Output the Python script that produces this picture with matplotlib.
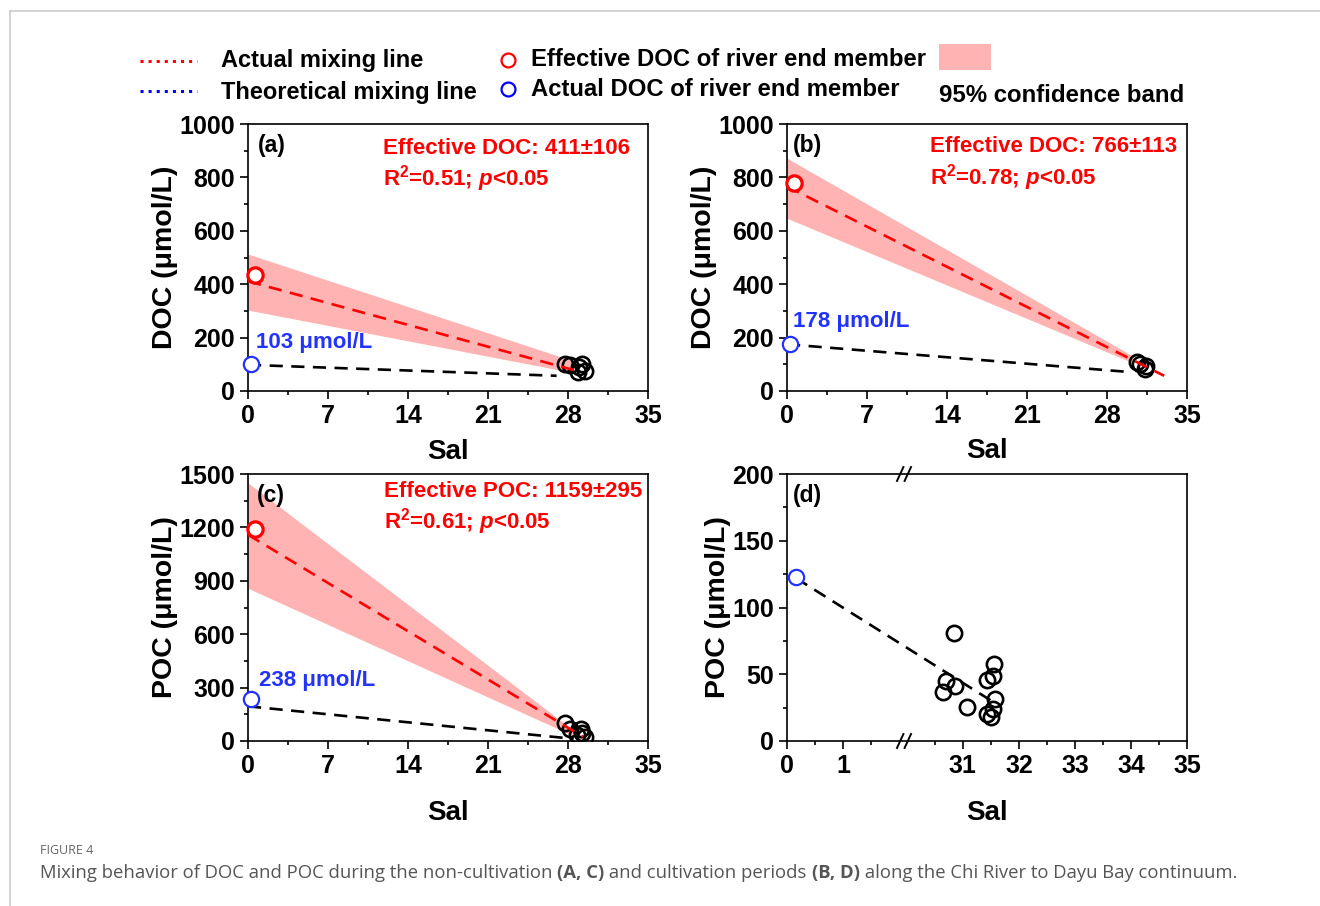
import numpy as np
import matplotlib
matplotlib.use("Agg")
import matplotlib.pyplot as plt
from matplotlib.lines import Line2D
from matplotlib.patches import Rectangle

plt.rcParams['font.family'] = ['Liberation Sans', 'DejaVu Sans']
plt.rcParams['font.weight'] = 'bold'
plt.rcParams['axes.labelweight'] = 'bold'
plt.rcParams['mathtext.fontset'] = 'custom'
plt.rcParams['mathtext.rm'] = 'Liberation Sans:bold'
plt.rcParams['mathtext.bf'] = 'Liberation Sans:bold'
plt.rcParams['mathtext.it'] = 'Liberation Sans:italic:bold'

RED = '#ff0000'
BLUE = '#2233ff'
PINK = '#ffb3b3'

# ---- data ----
# (a) DOC, non-cultivation
a_sal = [27.7, 28.2, 29.0, 29.2, 28.9, 29.5]
a_doc = [100, 97, 91, 100, 72, 75]
a_eff_x, a_eff_y = [0.6], [435]
a_act_x, a_act_y = [0.25], [101]
a_fit_x, a_fit_y = [0, 28.8], [411, 75]
a_theo_x, a_theo_y = [0, 27.0], [98, 57]
a_band_x, a_band_lo, a_band_hi = [0, 28.3], [303, 70], [513, 115]

# (b) DOC, cultivation
b_sal = [30.6, 30.9, 31.4, 31.3]
b_doc = [108, 100, 95, 82]
b_eff_x, b_eff_y = [0.6], [780]
b_act_x, b_act_y = [0.25], [176]
b_fit_x, b_fit_y = [0, 33.0], [766, 57]
b_theo_x, b_theo_y = [0, 29.7], [175, 72]
b_band_x, b_band_lo, b_band_hi = [0, 30.3], [647, 105], [872, 130]

# (c) POC, non-cultivation
c_sal = [27.7, 28.2, 29.1, 28.8, 29.5, 29.2]
c_poc = [100, 66, 70, 35, 20, 45]
c_eff_x, c_eff_y = [0.6], [1189]
c_act_x, c_act_y = [0.3], [236]
c_fit_x, c_fit_y = [0, 29.3], [1159, 24]
c_theo_x, c_theo_y = [0, 28.5], [195, 12]
c_band_x, c_band_lo, c_band_hi = [0, 29.3], [858, 5], [1450, 20]

# (d) POC, cultivation (broken salinity axis)
d_sal = [30.84, 30.70, 30.65, 30.86, 31.08, 31.56, 31.53, 31.43, 31.57, 31.53, 31.43, 31.50]
d_poc = [80.7, 45.2, 36.5, 41.4, 25.2, 57.7, 48.7, 45.7, 31.2, 23.7, 20.2, 18.2]
d_act_x, d_act_y = [0.16], [123]
d_theo_x, d_theo_y = [0.16, 31.55], [122, 29]

W, H = 1320, 906
fig = plt.figure(figsize=(W / 100, H / 100), dpi=100)


def px_ax(left, top, right, bottom):
    return fig.add_axes([left / W, 1 - bottom / H, (right - left) / W, (bottom - top) / H])


def style(ax, ymax, ystep, ylab, labelpad_x):
    ax.set_ylim(0, ymax)
    ax.set_yticks(np.arange(0, ymax + 1, ystep))
    ax.set_yticks(np.arange(ystep / 2, ymax, ystep), minor=True)
    ax.set_ylabel(ylab, fontsize=20.5, labelpad=1)
    ax.set_xlabel('Sal', fontsize=20, labelpad=labelpad_x)
    ax.tick_params(which='both', direction='out', width=1.2, labelsize=18,
                   top=False, right=False, pad=4)
    ax.tick_params(which='major', length=5.5)
    ax.tick_params(which='minor', length=3)
    for s in ax.spines.values():
        s.set_linewidth(1.2)


def sal_axis(ax):
    ax.set_xlim(0, 35)
    ax.set_xticks(np.arange(0, 36, 7))
    ax.set_xticks(np.arange(3.5, 35, 7), minor=True)


def mixing(ax, sal, val, eff_x, eff_y, act_x, act_y, fit_x, fit_y,
           theo_x, theo_y, band_x, band_lo, band_hi):
    ax.fill_between(band_x, band_lo, band_hi, color=PINK, lw=0, zorder=1)
    ax.plot(theo_x, theo_y, color='black', lw=1.9, ls=(0, (5, 3.2)), zorder=2)
    ax.plot(sal, val, 'o', mfc='none', mec='black', ms=11, mew=1.9, zorder=3)
    ax.plot(fit_x, fit_y, color=RED, lw=1.9, ls=(0, (5, 3.2)), zorder=4)
    ax.plot(eff_x, eff_y, 'o', mfc='white', mec=RED, ms=11, mew=2.3, zorder=5, clip_on=False)
    ax.plot(act_x, act_y, 'o', mfc='white', mec=BLUE, ms=11, mew=1.6, zorder=5, clip_on=False)


def stats(ax, x, y, head, r2):
    ax.text(x, y, head, transform=ax.transAxes, color=RED, fontsize=16, va='center')
    ax.text(x, y - 0.115, r'R$^{2}$=%s; $p$<0.05' % r2, transform=ax.transAxes,
            color=RED, fontsize=16, va='center')


# (a)
ax_a = px_ax(248, 124, 648, 391)
mixing(ax_a, a_sal, a_doc, a_eff_x, a_eff_y, a_act_x, a_act_y, a_fit_x, a_fit_y,
       a_theo_x, a_theo_y, a_band_x, a_band_lo, a_band_hi)
sal_axis(ax_a)
style(ax_a, 1000, 200, 'DOC (μmol/L)', 8)
ax_a.text(0.025, 0.921, '(a)', transform=ax_a.transAxes, fontsize=16.5, va='center')
stats(ax_a, 0.3375, 0.91, 'Effective DOC: 411±106', '0.51')
ax_a.text(0.02, 0.1835, '103 μmol/L', transform=ax_a.transAxes, color=BLUE, fontsize=16, va='center')

# (b)
ax_b = px_ax(787, 124, 1187, 391)
mixing(ax_b, b_sal, b_doc, b_eff_x, b_eff_y, b_act_x, b_act_y, b_fit_x, b_fit_y,
       b_theo_x, b_theo_y, b_band_x, b_band_lo, b_band_hi)
sal_axis(ax_b)
style(ax_b, 1000, 200, 'DOC (μmol/L)', 7)
ax_b.text(0.015, 0.921, '(b)', transform=ax_b.transAxes, fontsize=16.5, va='center')
stats(ax_b, 0.3575, 0.914, 'Effective DOC: 766±113', '0.78')
ax_b.text(0.015, 0.262, '178 μmol/L', transform=ax_b.transAxes, color=BLUE, fontsize=16, va='center')

# (c)
ax_c = px_ax(248, 474, 648, 741)
mixing(ax_c, c_sal, c_poc, c_eff_x, c_eff_y, c_act_x, c_act_y, c_fit_x, c_fit_y,
       c_theo_x, c_theo_y, c_band_x, c_band_lo, c_band_hi)
sal_axis(ax_c)
style(ax_c, 1500, 300, 'POC (μmol/L)', 16)
ax_c.text(0.0225, 0.921, '(c)', transform=ax_c.transAxes, fontsize=16.5, va='center')
stats(ax_c, 0.34, 0.936, 'Effective POC: 1159±295', '0.61')
ax_c.text(0.0275, 0.225, '238 μmol/L', transform=ax_c.transAxes, color=BLUE, fontsize=16, va='center')

# (d) broken x axis: 0-2 and 30-35
brk_in = [0, 2, 30, 35]
brk_out = [0, 2, 2.14, 7.14]


def fwd(x):
    return np.interp(x, brk_in, brk_out)


def inv(x):
    return np.interp(x, brk_out, brk_in)


ax_d = px_ax(787, 474, 1187, 741)
ax_d.set_xscale('function', functions=(fwd, inv))
ax_d.plot(d_theo_x, d_theo_y, color='black', lw=1.9, ls=(0, (5, 3.2)), zorder=2)
ax_d.plot(d_sal, d_poc, 'o', mfc='none', mec='black', ms=11, mew=1.9, zorder=3)
ax_d.plot(d_act_x, d_act_y, 'o', mfc='white', mec=BLUE, ms=11, mew=1.6, zorder=5, clip_on=False)
ax_d.set_xlim(0, 35)
ax_d.set_xticks([0, 1, 31, 32, 33, 34, 35])
ax_d.set_xticks([0.5, 1.5, 30.5, 31.5, 32.5, 33.5, 34.5], minor=True)
style(ax_d, 200, 50, 'POC (μmol/L)', 16)
ax_d.text(0.015, 0.918, '(d)', transform=ax_d.transAxes, fontsize=16.5, va='center')
for yb in (0, 1):
    for xb in (0.283, 0.302):
        ax_d.plot([xb - 0.008, xb + 0.008], [yb - 0.026, yb + 0.026], color='black',
                  lw=1.4, transform=ax_d.transAxes, clip_on=False, zorder=6)

# ---- legend along the top ----
def fx(p):
    return p / W


def fy(p):
    return 1 - p / H


fig.add_artist(Line2D([fx(140), fx(197)], [fy(61), fy(61)], color=RED, lw=2.2, ls=':'))
fig.add_artist(Line2D([fx(140), fx(197)], [fy(91), fy(91)], color='#0000ff', lw=2.2, ls=':'))
fig.text(fx(221), fy(61), 'Actual mixing line', fontsize=17, va='center')
fig.text(fx(221), fy(92), 'Theoretical mixing line', fontsize=17, va='center')
fig.add_artist(Line2D([fx(508)], [fy(60)], marker='o', mfc='none', mec=RED, ms=10, mew=1.6))
fig.add_artist(Line2D([fx(508)], [fy(89)], marker='o', mfc='none', mec='#0000ff', ms=10, mew=1.6))
fig.text(fx(531), fy(59), 'Effective DOC of river end member', fontsize=17.2, va='center')
fig.text(fx(531), fy(89), 'Actual DOC of river end member', fontsize=17.2, va='center')
fig.add_artist(Rectangle((fx(939), fy(70)), fx(52), 26 / H, color=PINK, lw=0))
fig.text(fx(939), fy(96), '95% confidence band', fontsize=17.3, va='center')

# ---- page frame and caption ----
fig.add_artist(Line2D([fx(10), 1], [fy(11), fy(11)], color='#cccccc', lw=1.2))
fig.add_artist(Line2D([fx(10), fx(10)], [fy(11), 0], color='#cccccc', lw=1.2))
fig.text(fx(40), fy(851), 'FIGURE 4', fontsize=9, color='#666666', family='Open Sans',
         weight='normal', va='center')

runs = [('Mixing behavior of DOC and POC during the non-cultivation ', 'normal'),
        ('(A, C)', 'bold'),
        (' and cultivation periods ', 'normal'),
        ('(B, D)', 'bold'),
        (' along the Chi River to Dayu Bay continuum.', 'normal')]
renderer = fig.canvas.get_renderer()
xcur = fx(40)
for txt, wt in runs:
    t = fig.text(xcur, fy(873), txt, fontsize=13.3, color='#555555', family='Open Sans',
                 weight=wt, va='center')
    bb = t.get_window_extent(renderer)
    xcur = bb.x1 / W

fig.savefig('out.png', dpi=100)
